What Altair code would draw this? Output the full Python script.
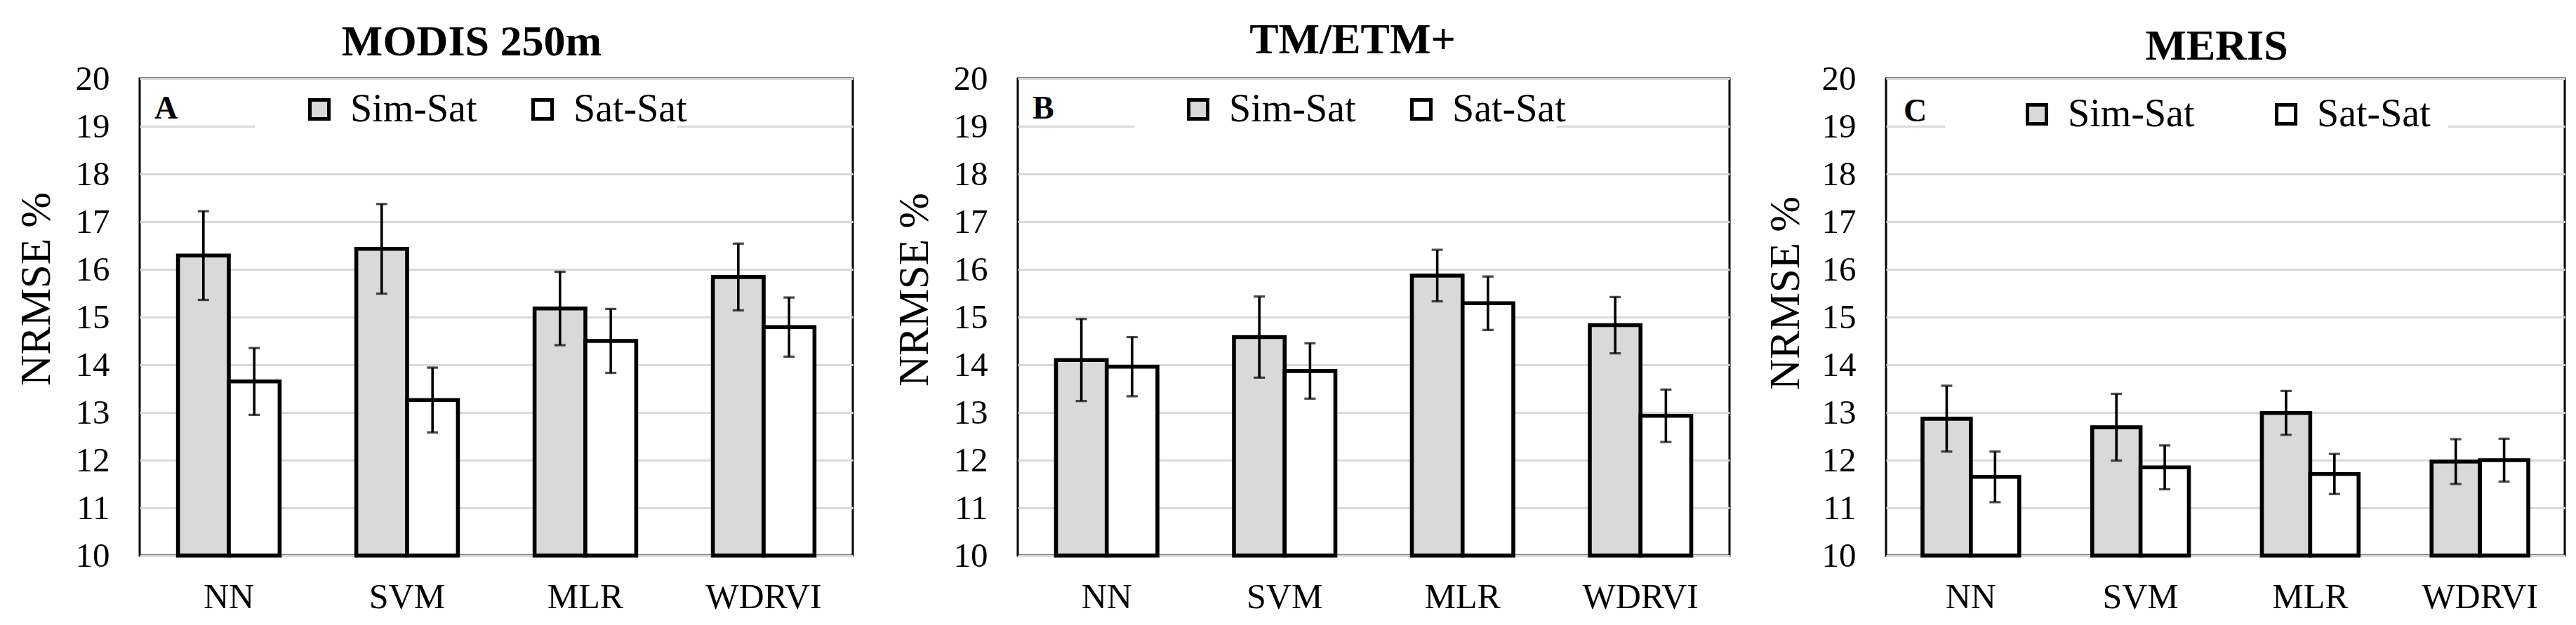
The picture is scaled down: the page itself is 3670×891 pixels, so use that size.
import altair as alt
import pandas as pd

FONT = "Liberation Serif"

methods = ["NN", "SVM", "MLR", "WDRVI"]
series = ["Sim-Sat", "Sat-Sat"]
panel_titles = ["MODIS 250m", "TM/ETM+", "MERIS"]
panel_letters = ["A", "B", "C"]
y_title = "NRMSE %"
y_ticks = [10, 11, 12, 13, 14, 15, 16, 17, 18, 19, 20]

modis_sim = [16.29, 16.43, 15.18, 15.84]
modis_sim_err = [0.93, 0.94, 0.77, 0.70]
modis_sat = [13.65, 13.26, 14.50, 14.79]
modis_sat_err = [0.70, 0.68, 0.67, 0.62]

tm_sim = [14.10, 14.58, 15.87, 14.83]
tm_sim_err = [0.86, 0.85, 0.54, 0.59]
tm_sat = [13.96, 13.87, 15.29, 12.93]
tm_sat_err = [0.62, 0.58, 0.56, 0.55]

meris_sim = [12.87, 12.69, 12.99, 11.97]
meris_sim_err = [0.69, 0.70, 0.46, 0.47]
meris_sat = [11.65, 11.85, 11.71, 12.00]
meris_sat_err = [0.53, 0.46, 0.42, 0.45]


def panel_df(sim, sim_err, sat, sat_err):
    rows = []
    for i, m in enumerate(methods):
        rows.append(dict(method=m, series="Sim-Sat", value=sim[i],
                         lo=sim[i] - sim_err[i], hi=sim[i] + sim_err[i]))
        rows.append(dict(method=m, series="Sat-Sat", value=sat[i],
                         lo=sat[i] - sat_err[i], hi=sat[i] + sat_err[i]))
    return pd.DataFrame(rows)


def make_panel(df, title, letter, width, title_x, title_y, ytitle_x, ytitle_y,
               legend_x, legend_y, col_pad, mask_x, mask_x2, letter_x, letter_y):
    yscale = alt.Scale(domain=[10, 20], nice=False, zero=False)
    yaxis = alt.Axis(values=y_ticks, title=None,
                     labelFont=FONT, labelFontSize=49,
                     labelColor="black", labelPadding=43,
                     ticks=False, tickSize=0, domain=False,
                     grid=True, gridColor="#d9d9d9", gridWidth=3)
    x = alt.X("method:N", sort=methods,
              scale=alt.Scale(paddingInner=0.43, paddingOuter=0.215),
              axis=alt.Axis(title=None, labelAngle=0, labelFontSize=50,
                            labelPadding=34, ticks=False, tickSize=0,
                            domain=False, grid=False, labelFont=FONT,
                            labelColor="black", labelBaseline="top"))
    xo = alt.XOffset("series:N", sort=series,
                     scale=alt.Scale(paddingInner=0, paddingOuter=0))
    base = alt.Chart(df)
    mask = alt.Chart(pd.DataFrame({"k": [0]})).mark_rect(
        fill="white").encode(
        x=alt.value(mask_x), x2=alt.value(mask_x2),
        y=alt.value(20), y2=alt.value(95))
    bars = base.mark_bar(stroke="black", strokeWidth=5.6).encode(
        x=x, xOffset=xo,
        y=alt.Y("value:Q", scale=yscale, axis=yaxis),
        y2=alt.datum(10),
        fill=alt.Fill("series:N", sort=series,
                      scale=alt.Scale(domain=series, range=["#d9d9d9", "#ffffff"]),
                      legend=alt.Legend(title=None, orient="none",
                                        legendX=legend_x, legendY=legend_y,
                                        direction="horizontal",
                                        symbolType="square", symbolSize=729,
                                        symbolStrokeColor="black",
                                        symbolStrokeWidth=5,
                                        labelFont=FONT, labelFontSize=56,
                                        labelColor="black", labelOffset=16,
                                        labelLimit=400,
                                        columnPadding=col_pad, padding=0)),
    )
    rule = base.mark_rule(color="black", strokeWidth=3.6).encode(
        x=x, xOffset=xo,
        y=alt.Y("lo:Q", scale=yscale, axis=yaxis), y2="hi:Q")
    cap_lo = base.mark_tick(color="black", thickness=3.3, size=16).encode(
        x=x, xOffset=xo, y=alt.Y("lo:Q", scale=yscale, axis=yaxis))
    cap_hi = base.mark_tick(color="black", thickness=3.3, size=16).encode(
        x=x, xOffset=xo, y=alt.Y("hi:Q", scale=yscale, axis=yaxis))
    label = alt.Chart(pd.DataFrame({"letter": [letter]})).mark_text(
        font=FONT, fontSize=46, fontWeight="bold", align="left",
        baseline="alphabetic", color="black").encode(
        x=alt.value(letter_x), y=alt.value(letter_y), text="letter:N")
    ttl = alt.Chart(pd.DataFrame({"t": [title]})).mark_text(
        font=FONT, fontSize=62, fontWeight="bold", align="center",
        baseline="alphabetic", color="black").encode(
        x=alt.value(title_x), y=alt.value(title_y), text="t:N")
    ytl = alt.Chart(pd.DataFrame({"t": [y_title]})).mark_text(
        font=FONT, fontSize=61, align="center", angle=270,
        baseline="alphabetic", color="black").encode(
        x=alt.value(ytitle_x), y=alt.value(ytitle_y), text="t:N")
    return alt.layer(mask, bars, rule, cap_lo, cap_hi, label, ttl, ytl).properties(
        width=width, height=680)


pA = make_panel(panel_df(modis_sim, modis_sim_err, modis_sat, modis_sat_err),
                panel_titles[0], panel_letters[0], 1016, 473, -33, -128, 300,
                228, 16, 65, 164, 765, 21, 57)
pB = make_panel(panel_df(tm_sim, tm_sim_err, tm_sat, tm_sat_err),
                panel_titles[1], panel_letters[1], 1014, 477, -36, -128, 301,
                229, 16, 65, 166, 767, 21, 57)
pC = make_panel(panel_df(meris_sim, meris_sim_err, meris_sat, meris_sat_err),
                panel_titles[2], panel_letters[2], 967, 471, -27, -124, 306,
                187, 23, 102, 84, 801, 25, 61)

ab = alt.hconcat(pA, pB, spacing=54).resolve_scale(
    x="independent", y="independent", fill="independent", xOffset="independent"
).resolve_legend(fill="independent")

chart = alt.hconcat(ab, pC, spacing=46).resolve_scale(
    x="independent", y="independent", fill="independent", xOffset="independent"
).resolve_legend(fill="independent").configure_view(
    stroke="black", strokeWidth=3
).properties(padding={"left": 12, "top": 16, "right": 5, "bottom": 5})

chart.save("out.html", embed_options={"renderer": "svg", "actions": False})
